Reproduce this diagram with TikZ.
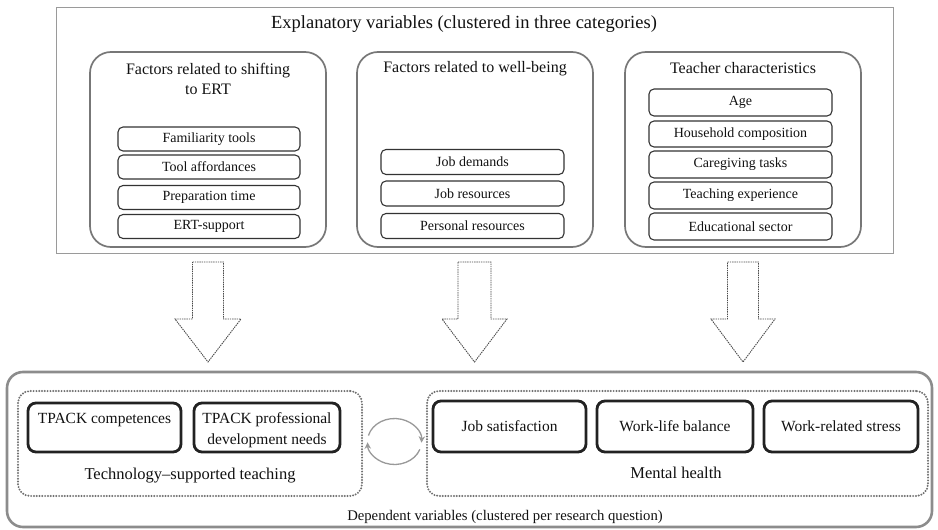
\documentclass[tikz,border=0pt]{standalone}
\usepackage{fontspec}
\setmainfont{Liberation Serif}
\usetikzlibrary{arrows.meta}
\definecolor{txt}{HTML}{111111}
\definecolor{outerc}{HTML}{9A9A9A}
\definecolor{catc}{HTML}{777777}
\definecolor{itemc}{HTML}{333333}
\definecolor{arrc}{HTML}{4A4A4A}
\definecolor{depc}{HTML}{8C8C8C}
\definecolor{grpc}{HTML}{707070}
\definecolor{depboxc}{HTML}{222222}
\definecolor{cycc}{HTML}{999999}
\tikzset{
  outerbox/.style={draw=outerc, line width=1pt, inner sep=0pt},
  catbox/.style={draw=catc, line width=1.7pt, rounded corners=21pt, inner sep=0pt},
  cattitle/.style={text=txt, align=center, font=\fontsize{16}{20}\selectfont, inner sep=0pt},
  itembox/.style={draw=itemc, line width=1.1pt, rounded corners=5pt, inner sep=0pt, text=txt, font=\fontsize{14}{16}\selectfont},
  blockarrow/.style={draw=arrc, line width=0.9pt, dash pattern=on 1.4pt off 0.9pt, line join=miter},
  depouter/.style={draw=depc, line width=2.6pt, rounded corners=16pt, inner sep=0pt},
  grpbox/.style={draw=grpc, line width=2.2pt, line cap=round, dash pattern=on 0pt off 2.8pt, rounded corners=12pt, inner sep=0pt},
  depbox/.style={draw=depboxc, line width=2.8pt, rounded corners=8pt, inner sep=0pt, text=txt, align=center, font=\fontsize{15.5}{21}\selectfont},
  deptext/.style={text=txt, inner sep=0pt, anchor=base, font=\fontsize{15.5}{21}\selectfont},
  grptitle/.style={text=txt, font=\fontsize{16.5}{20}\selectfont, inner sep=0pt},
  cyclearrow/.style={draw=cycc, line width=1.3pt, -{Stealth[length=6.5pt,width=6.5pt]}},
}
\begin{document}
\begin{tikzpicture}[x=1pt,y=-1pt]
\useasboundingbox (0,0) rectangle (938,530);

% ---------- explanatory variables ----------
\node[outerbox, minimum width=837pt, minimum height=246pt] (expl) at (474.5,130) {};
\node[text=txt, inner sep=0pt, font=\fontsize{18.5}{22}\selectfont] (explt) at (464,24) {Explanatory variables (clustered in three categories)};

% category A
\node[catbox, minimum width=236pt, minimum height=195pt] (catA) at (208,149.5) {};
\node[cattitle] (catAt) at (208,79) {Factors related to shifting\\to ERT};
\node[itembox, minimum width=182pt, minimum height=24pt] (a1) at (209,139) {Familiarity tools};
\node[itembox, minimum width=182pt, minimum height=24pt] (a2) at (209,167) {Tool affordances};
\node[itembox, minimum width=182pt, minimum height=24pt] (a3) at (209,197.5) {Preparation time};
\node[itembox, minimum width=182pt, minimum height=24pt] (a4) at (209,226.5) {ERT-support};

% category B
\node[catbox, minimum width=236pt, minimum height=195pt] (catB) at (475,149.5) {};
\node[cattitle] (catBt) at (475,69) {Factors related to well-being};
\node[itembox, minimum width=183pt, minimum height=25pt] (b1) at (472.5,162) {Job demands};
\node[itembox, minimum width=183pt, minimum height=25pt] (b2) at (472.5,193.5) {Job resources};
\node[itembox, minimum width=183pt, minimum height=25pt] (b3) at (472.5,226) {Personal resources};

% category C
\node[catbox, minimum width=236pt, minimum height=195pt] (catC) at (743,149.5) {};
\node[cattitle] (catCt) at (743,68) {Teacher characteristics};
\node[itembox, minimum width=183pt, minimum height=27pt] (c1) at (740.5,102.5) {Age};
\node[itembox, minimum width=183pt, minimum height=26pt] (c2) at (740.5,134) {Household composition};
\node[itembox, minimum width=183pt, minimum height=27pt] (c3) at (740.5,164.5) {Caregiving tasks};
\node[itembox, minimum width=183pt, minimum height=27pt] (c4) at (740.5,195.5) {Teaching experience};
\node[itembox, minimum width=183pt, minimum height=27pt] (c5) at (740.5,226.5) {Educational sector};

% ---------- block arrows ----------
\foreach \c/\s/\h in {208/15.5/33, 474.5/16.5/32.5, 743/15.5/32}{
  \draw[blockarrow] (\c-\s,262) -- (\c+\s,262) -- (\c+\s,319) -- (\c+\h,319)
     -- (\c,362) -- (\c-\h,319) -- (\c-\s,319) -- cycle;
}

% ---------- dependent variables ----------
\node[depouter, minimum width=925pt, minimum height=155pt] (dep) at (469.5,449.5) {};
\node[text=txt, inner sep=0pt, font=\fontsize{14.7}{18}\selectfont] (dept) at (505,517) {Dependent variables (clustered per research question)};

\node[grpbox, minimum width=344pt, minimum height=105pt] (gT) at (190,443.5) {};
\node[grpbox, minimum width=501pt, minimum height=105pt] (gM) at (677.5,443.5) {};

\node[depbox, minimum width=153pt, minimum height=49pt] (d1) at (104.5,427.5) {};
\node[deptext] (d1a) at (104.5,423) {TPACK competences};
\node[depbox, minimum width=146pt, minimum height=49pt] (d2) at (267,427.5) {};
\node[deptext] (d2a) at (267,423) {TPACK professional};
\node[deptext] (d2b) at (267,444) {development needs};
\node[depbox, minimum width=153pt, minimum height=51pt] (d3) at (509.5,426.5) {Job satisfaction};
\node[depbox, minimum width=156pt, minimum height=51pt] (d4) at (675,426.5) {Work-life balance};
\node[depbox, minimum width=154pt, minimum height=51pt] (d5) at (841,426.5) {Work-related stress};

\node[grptitle] (gTt) at (190,476) {Technology–supported teaching};
\node[grptitle] (gMt) at (676,473) {Mental health};

% ---------- reciprocal arrows ----------
\coordinate (cyc) at (394.5,441.5);
\draw[cyclearrow] (cyc) ++(165:27pt and 23pt) arc[start angle=165, end angle=-3, x radius=27pt, y radius=23pt];
\draw[cyclearrow] (cyc) ++(-20:27pt and 23pt) arc[start angle=-20, end angle=-178, x radius=27pt, y radius=23pt];
\end{tikzpicture}
\end{document}
